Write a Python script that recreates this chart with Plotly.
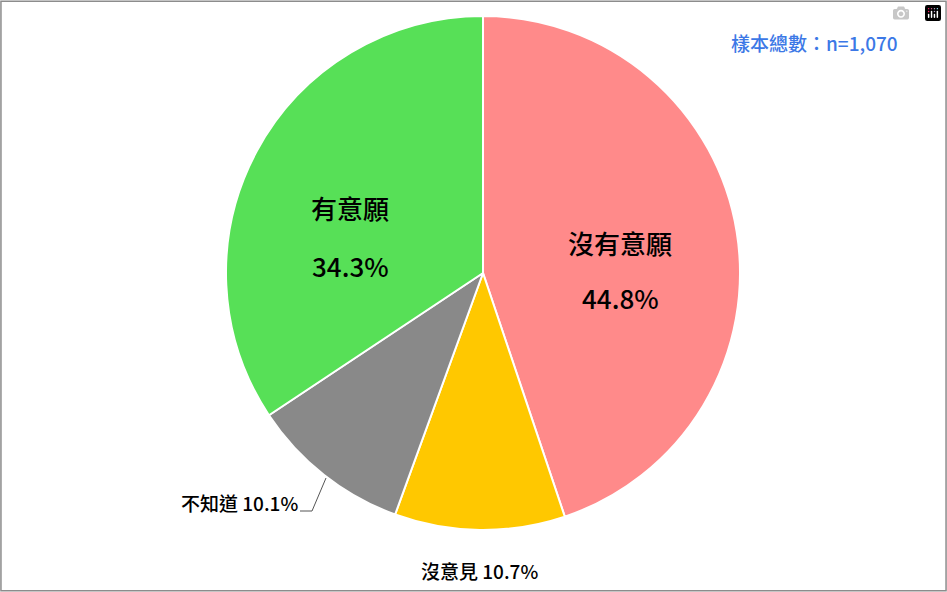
import plotly.graph_objects as go

labels = ["沒有意願", "沒意見", "不知道", "有意願"]
values = [44.8, 10.7, 10.1, 34.3]
colors = ["#FF8A8A", "#FFC800", "#898989", "#57E057"]
sample_note = "樣本總數：n=1,070"

W, H = 947, 592
FONT = "Noto Sans CJK TC"

fig = go.Figure(go.Pie(
    labels=labels,
    values=values,
    sort=False,
    direction="clockwise",
    rotation=0,
    marker=dict(colors=colors, line=dict(color="white", width=2)),
    textinfo="none",
    hoverinfo="label+percent",
    domain=dict(x=[(483 - 257) / W, (483 + 257) / W], y=[1 - 530 / H, 1 - 16 / H]),
))


def px(x, y):
    return x / W, 1 - y / H


annots = [
    (350, 208, labels[3], 26, "center"),
    (350, 265, f"{values[3]}%", 26, "center"),
    (620, 242, labels[0], 26, "center"),
    (620, 297, f"{values[0]}%", 26, "center"),
    (300, 502, f"{labels[2]} {values[2]}%", 19, "right"),
    (480, 570, f"{labels[1]} {values[1]}%", 19, "center"),
]
for x, y, t, s, a in annots:
    ax, ay = px(x, y)
    fig.add_annotation(x=ax, y=ay, xref="paper", yref="paper", text=t, showarrow=False,
                       xanchor=a, yanchor="middle",
                       font=dict(family=FONT, size=s, color="black", weight=500))

nx, ny = px(900, 42)
fig.add_annotation(x=nx, y=ny, xref="paper", yref="paper", text=sample_note, showarrow=False,
                   xanchor="right", yanchor="middle",
                   font=dict(family=FONT, size=19, color="#3C78E6", weight=500))

# leader line for 不知道
x0, y0 = px(300, 511)
x1, y1 = px(312, 511)
x2, y2 = px(326, 478)
fig.add_shape(type="path", xref="paper", yref="paper",
              path=f"M {x0} {y0} L {x1} {y1} L {x2} {y2}",
              line=dict(color="#555555", width=1))

# outer frame
fig.add_shape(type="rect", xref="paper", yref="paper", x0=0.001, y0=0.002, x1=0.999, y1=0.998,
              line=dict(color="#8C8C8C", width=1.5))

fig.update_layout(
    width=W, height=H,
    margin=dict(l=0, r=0, t=0, b=0),
    showlegend=False,
    paper_bgcolor="white",
    font=dict(family=FONT),
)

fig.write_html("out.html")

# drop the default body margin so the figure fills the window
with open("out.html", encoding="utf-8") as f:
    html = f.read()
html = html.replace("<head>", "<head><style>html,body{margin:0;padding:0;overflow:hidden;}</style>", 1)
with open("out.html", "w", encoding="utf-8") as f:
    f.write(html)
